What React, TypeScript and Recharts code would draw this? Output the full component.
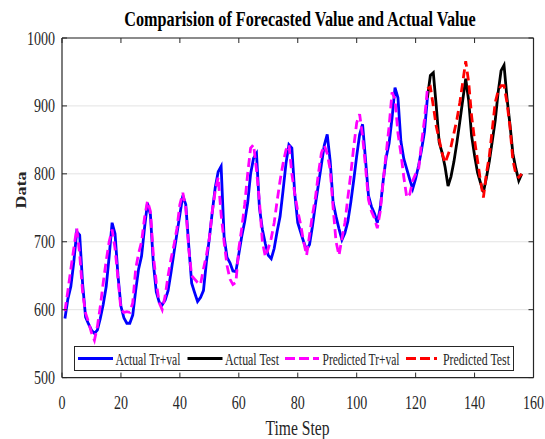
import { LineChart, Line, XAxis, YAxis, CartesianGrid, Legend } from "recharts";

// time steps start at 1; the test segment starts at step 124 (shares the joint point)
const TRAIN_START = 1;
const TEST_START = 124;

const actualTrVal = [
  587, 616, 634, 670, 715, 710, 638, 589, 579, 570, 565, 570,
  587, 608, 634, 678, 728, 712, 650, 605, 588, 580, 580, 592,
  628, 660, 679, 720, 757, 740, 668, 626, 611, 607, 614, 628,
  655, 684, 712, 740, 768, 755, 695, 639, 625, 612, 618, 628,
  670, 705, 744, 780, 803, 811, 708, 677, 669, 657, 656, 682,
  708, 730, 757, 800, 823, 830, 750, 718, 697, 680, 675, 690,
  715, 737, 775, 815, 843, 838, 770, 728, 714, 700, 688, 696,
  723, 755, 784, 813, 842, 858, 819, 758, 737, 719, 703, 713,
  730, 758, 791, 826, 858, 873, 821, 768, 752, 742, 728, 750,
  790, 824, 845, 882, 927, 912, 848, 822, 807, 792, 778, 793,
  812, 835, 862, 912,
];

const actualTest = [
  912, 945, 949, 900, 846, 831, 810, 782, 796, 818, 846, 877,
  909, 940, 908, 856, 827, 802, 787, 773, 794, 818, 848, 878,
  920, 952, 960, 912, 873, 830, 808, 790, 800,
];

const predictedTrVal = [
  598, 628, 660, 690, 720, 682, 625, 595, 582, 566, 555, 575,
  605, 640, 672, 700, 718, 690, 646, 600, 596, 597, 596, 610,
  660, 683, 700, 735, 760, 745, 680, 640, 610, 600, 620, 650,
  675, 695, 720, 755, 772, 750, 690, 650, 645, 640, 637, 660,
  680, 705, 745, 775, 795, 740, 700, 665, 645, 637, 640, 690,
  720, 755, 800, 838, 843, 806, 760, 700, 678, 690, 705, 728,
  760, 790, 815, 835, 843, 800, 770, 745, 725, 700, 680, 710,
  740, 765, 800, 830, 842, 830, 806, 750, 700, 680, 705, 728,
  765, 800, 840, 875, 888, 855, 810, 762, 745, 735, 720, 745,
  790, 830, 870, 920, 910, 860, 830, 795, 765, 770, 790, 800,
  806, 845, 880, 925,
];

const predictedTest = [
  925, 928, 900, 870, 850, 830, 816, 828, 840, 860, 880, 905,
  935, 966, 935, 885, 850, 820, 790, 765, 800, 826, 865, 905,
  922, 930, 930, 905, 870, 820, 800, 795, 800,
];

const xTicks = [0, 20, 40, 60, 80, 100, 120, 140, 160];
const yTicks = [500, 600, 700, 800, 900, 1000];

const SERIF = "'Liberation Serif', 'Times New Roman', serif";
const FRAME = "#262626";
const SQUEEZE = 0.74;
const TICK_LEN = 5;

const toPoints = (values: number[], start: number) =>
  values.map((value, i) => ({ step: start + i, value }));

const legendItems = [
  { name: "Actual Tr+val", color: "#0000ff", dash: undefined, lineX: 4, lineLen: 35, textX: 41.5, textLen: 65 },
  { name: "Actual Test", color: "#000000", dash: undefined, lineX: 113.5, lineLen: 35, textX: 151, textLen: 54 },
  { name: "Predicted Tr+val", color: "#ff00ff", dash: "10 4", lineX: 211, lineLen: 34, textX: 248.5, textLen: 77 },
  { name: "Predicted Test", color: "#ff0000", dash: "10 4", lineX: 332, lineLen: 31, textX: 369, textLen: 67 },
];

function BottomTick(props: any) {
  const { x, y, payload } = props;
  return (
    <g>
      <line x1={x} x2={x} y1={y} y2={y - TICK_LEN} stroke={FRAME} />
      <text
        transform={`translate(${x},${y + 31}) scale(${SQUEEZE},1)`}
        textAnchor="middle"
        fontFamily={SERIF}
        fontSize={19}
        fill={FRAME}
      >
        {payload.value}
      </text>
    </g>
  );
}

function LeftTick(props: any) {
  const { x, y, payload } = props;
  return (
    <g>
      <line x1={x} x2={x + TICK_LEN} y1={y} y2={y} stroke={FRAME} />
      <text
        transform={`translate(${x - 7},${y + 6.5}) scale(${SQUEEZE},1)`}
        textAnchor="end"
        fontFamily={SERIF}
        fontSize={19}
        fill={FRAME}
      >
        {payload.value}
      </text>
    </g>
  );
}

function TopTick(props: any) {
  const { x, y } = props;
  return <line x1={x} x2={x} y1={y} y2={y + TICK_LEN} stroke={FRAME} />;
}

function RightTick(props: any) {
  const { x, y } = props;
  return <line x1={x} x2={x - TICK_LEN} y1={y} y2={y} stroke={FRAME} />;
}

function LegendBox() {
  return (
    <svg width={440} height={25} style={{ display: "block", overflow: "visible" }}>
      <rect x={0.5} y={0.5} width={439} height={24} fill="#fff" stroke={FRAME} />
      {legendItems.map((item) => (
        <g key={item.name}>
          <line
            x1={item.lineX}
            x2={item.lineX + item.lineLen}
            y1={12.5}
            y2={12.5}
            stroke={item.color}
            strokeWidth={3}
            strokeDasharray={item.dash}
          />
          <text
            x={item.textX}
            y={18.5}
            fontFamily={SERIF}
            fontSize={17}
            fill={FRAME}
            textLength={item.textLen}
            lengthAdjust="spacingAndGlyphs"
          >
            {item.name}
          </text>
        </g>
      ))}
    </svg>
  );
}

export default function App() {
  return (
    <div style={{ position: "absolute", left: 0, top: 0, width: 545, height: 439, background: "#fff" }}>
      {/* axes are 1px thick so they render; margins are reduced by that amount */}
      <LineChart width={545} height={439} margin={{ top: 37, right: 10.5, bottom: 60.4, left: 61 }}>
        <CartesianGrid vertical={false} stroke="#e3e3e3" strokeWidth={1} />
        <XAxis
          dataKey="step"
          type="number"
          domain={[0, 160]}
          ticks={xTicks}
          interval={0}
          height={1}
          tickSize={0}
          tickMargin={0}
          tickLine={false}
          tick={<BottomTick />}
          axisLine={{ stroke: FRAME, strokeWidth: 1.2 }}
          allowDataOverflow
        />
        <XAxis
          xAxisId="top"
          orientation="top"
          dataKey="step"
          type="number"
          domain={[0, 160]}
          ticks={xTicks}
          interval={0}
          height={1}
          tickSize={0}
          tickMargin={0}
          tickLine={false}
          tick={<TopTick />}
          axisLine={{ stroke: FRAME, strokeWidth: 1.2 }}
          allowDataOverflow
        />
        <YAxis
          type="number"
          domain={[500, 1000]}
          ticks={yTicks}
          interval={0}
          width={1}
          tickSize={0}
          tickMargin={0}
          tickLine={false}
          tick={<LeftTick />}
          axisLine={{ stroke: FRAME, strokeWidth: 1.2 }}
          allowDataOverflow
        />
        <YAxis
          yAxisId="right"
          orientation="right"
          type="number"
          domain={[500, 1000]}
          ticks={yTicks}
          interval={0}
          width={1}
          tickSize={0}
          tickMargin={0}
          tickLine={false}
          tick={<RightTick />}
          axisLine={{ stroke: FRAME, strokeWidth: 1.2 }}
          allowDataOverflow
        />
        <Legend
          layout="horizontal"
          verticalAlign="middle"
          align="center"
          wrapperStyle={{ position: "absolute", left: 74, top: 346, width: 440, height: 25 }}
          content={() => <LegendBox />}
        />
        <Line
          data={toPoints(actualTrVal, TRAIN_START)}
          dataKey="value"
          name="Actual Tr+val"
          stroke="#0000ff"
          strokeWidth={2.8}
          dot={false}
          isAnimationActive={false}
        />
        <Line
          data={toPoints(actualTest, TEST_START)}
          dataKey="value"
          name="Actual Test"
          stroke="#000000"
          strokeWidth={2.8}
          dot={false}
          isAnimationActive={false}
        />
        <Line
          data={toPoints(predictedTrVal, TRAIN_START)}
          dataKey="value"
          name="Predicted Tr+val"
          stroke="#ff00ff"
          strokeWidth={2.8}
          strokeDasharray="9 5"
          dot={false}
          isAnimationActive={false}
        />
        <Line
          data={toPoints(predictedTest, TEST_START)}
          dataKey="value"
          name="Predicted Test"
          stroke="#ff0000"
          strokeWidth={2.8}
          strokeDasharray="9 5"
          dot={false}
          isAnimationActive={false}
        />
      </LineChart>
      <svg
        width={545}
        height={439}
        style={{ position: "absolute", left: 0, top: 0, pointerEvents: "none" }}
      >
        <text
          transform="translate(300,26) scale(0.81,1)"
          textAnchor="middle"
          fontFamily={SERIF}
          fontSize={20}
          fontWeight="bold"
          fill="#000"
        >
          Comparision of Forecasted Value and Actual Value
        </text>
        <text
          transform="translate(297.5,435) scale(0.78,1)"
          textAnchor="middle"
          fontFamily={SERIF}
          fontSize={20}
          fill={FRAME}
        >
          Time Step
        </text>
        <text
          transform="translate(26,190) scale(0.85,1) rotate(-90)"
          textAnchor="middle"
          fontFamily={SERIF}
          fontSize={18}
          fontWeight="bold"
          fill={FRAME}
        >
          Data
        </text>
      </svg>
    </div>
  );
}
